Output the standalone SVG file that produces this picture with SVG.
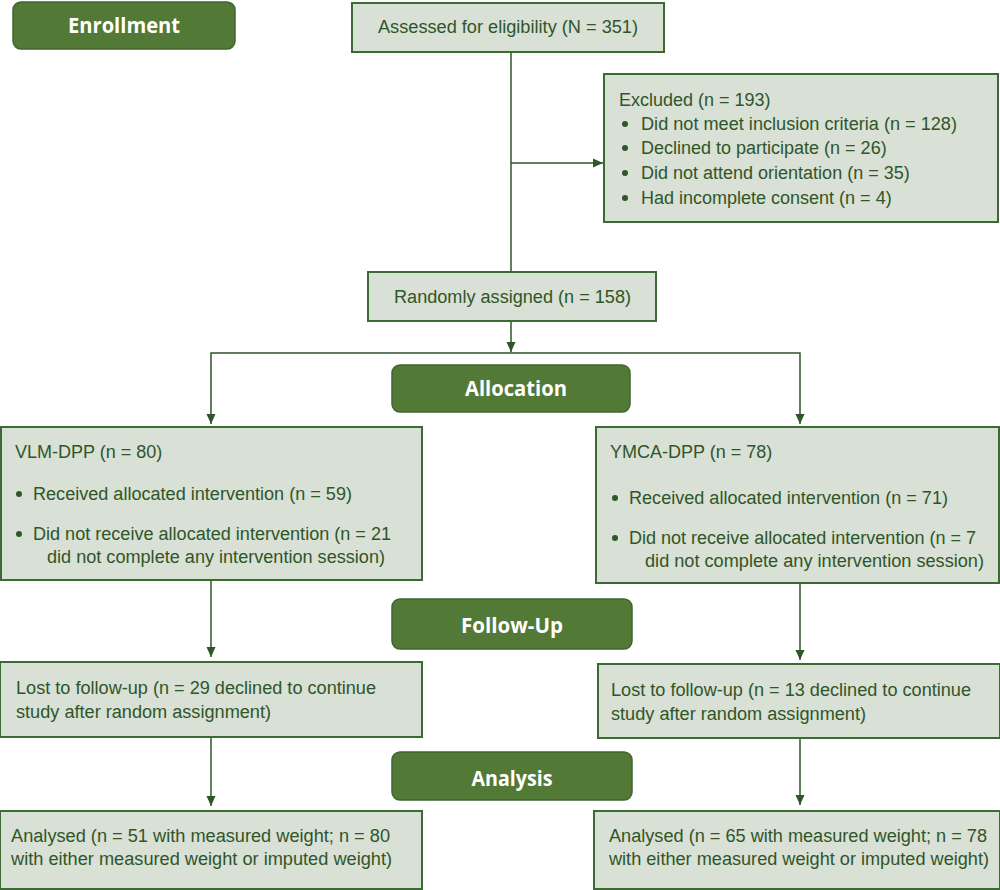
<svg xmlns="http://www.w3.org/2000/svg" width="1000" height="890" viewBox="0 0 1000 890">
<style>
.hdr rect{fill:#537936;stroke:#3f6530;stroke-width:1.5}
.hdr text{font-family:"Open Sans","Liberation Sans",sans-serif;font-weight:bold;font-size:21px;fill:#ffffff;text-anchor:middle}
.box rect{fill:#d9e0d5;stroke:#3b6a33;stroke-width:2}
.box text{font-family:"Liberation Sans",Arial,sans-serif;font-size:18px;fill:#2f5628}
.box circle{fill:#2f5628}
.conn path{fill:none;stroke:#2f5628;stroke-width:1.5}
</style>
<defs>
<marker id="ah" viewBox="0 0 10 10" refX="10" refY="5" markerWidth="10" markerHeight="10" markerUnits="userSpaceOnUse" orient="auto">
<path d="M0,0.5 L10,5 L0,9.5 Z" fill="#2f5628"/>
</marker>
</defs>
<rect width="1000" height="890" fill="#ffffff"/>
<g class="conn" id="connectors">
<path d="M511,52 V271"/>
<path d="M511,163 H603" marker-end="url(#ah)"/>
<path d="M511,321 V352" marker-end="url(#ah)"/>
<path d="M511,353 H211 V424" marker-end="url(#ah)"/>
<path d="M511,353 H800 V424" marker-end="url(#ah)"/>
<path d="M211,580 V657" marker-end="url(#ah)"/>
<path d="M800,583 V660" marker-end="url(#ah)"/>
<path d="M211,737 V806" marker-end="url(#ah)"/>
<path d="M800,738 V805" marker-end="url(#ah)"/>
</g>
<g class="hdr" id="enrollment"><rect x="13" y="2" width="222" height="47" rx="8"/><text x="124" y="33" textLength="112" lengthAdjust="spacingAndGlyphs">Enrollment</text></g>
<g class="hdr" id="allocation"><rect x="392" y="365" width="238" height="47" rx="8"/><text x="516" y="396" textLength="102" lengthAdjust="spacingAndGlyphs">Allocation</text></g>
<g class="hdr" id="followup"><rect x="392" y="599" width="240" height="50" rx="8"/><text x="512" y="633" textLength="102" lengthAdjust="spacingAndGlyphs">Follow-Up</text></g>
<g class="hdr" id="analysis"><rect x="392" y="752" width="240" height="48" rx="8"/><text x="512" y="786" textLength="81" lengthAdjust="spacingAndGlyphs">Analysis</text></g>
<g class="box" id="assessed"><rect x="352" y="3" width="312" height="49"/><text x="378" y="33" textLength="260" lengthAdjust="spacingAndGlyphs">Assessed for eligibility (N = 351)</text></g>
<g class="box" id="excluded"><rect x="604" y="74" width="394" height="148"/>
<text x="619" y="106">Excluded (n = 193)</text>
<circle cx="625" cy="124" r="3"/><text x="641" y="130" textLength="316" lengthAdjust="spacingAndGlyphs">Did not meet inclusion criteria (n = 128)</text>
<circle cx="625" cy="148" r="3"/><text x="641" y="154">Declined to participate (n = 26)</text>
<circle cx="625" cy="173" r="3"/><text x="641" y="179">Did not attend orientation (n = 35)</text>
<circle cx="625" cy="198" r="3"/><text x="641" y="204">Had incomplete consent (n = 4)</text>
</g>
<g class="box" id="randomized"><rect x="368" y="272" width="288" height="49"/><text x="394" y="303" textLength="237" lengthAdjust="spacingAndGlyphs">Randomly assigned (n = 158)</text></g>
<g class="box" id="vlm"><rect x="1" y="427" width="421" height="153"/>
<text x="15" y="458">VLM-DPP (n = 80)</text>
<circle cx="19" cy="494" r="3"/><text x="33" y="500" textLength="319" lengthAdjust="spacingAndGlyphs">Received allocated intervention (n = 59)</text>
<circle cx="19" cy="534" r="3"/><text x="33" y="540" textLength="358" lengthAdjust="spacingAndGlyphs">Did not receive allocated intervention (n = 21</text>
<text x="47" y="563" textLength="338" lengthAdjust="spacingAndGlyphs">did not complete any intervention session)</text>
</g>
<g class="box" id="ymca"><rect x="596" y="427" width="403" height="156"/>
<text x="610" y="458">YMCA-DPP (n = 78)</text>
<circle cx="615" cy="498" r="3"/><text x="629" y="504" textLength="319" lengthAdjust="spacingAndGlyphs">Received allocated intervention (n = 71)</text>
<circle cx="615" cy="538" r="3"/><text x="629" y="544" textLength="347" lengthAdjust="spacingAndGlyphs">Did not receive allocated intervention (n = 7</text>
<text x="645" y="567" textLength="339" lengthAdjust="spacingAndGlyphs">did not complete any intervention session)</text>
</g>
<g class="box" id="lost-left"><rect x="0" y="662" width="422" height="75"/>
<text x="16" y="694" textLength="360" lengthAdjust="spacingAndGlyphs">Lost to follow-up (n = 29 declined to continue</text>
<text x="16" y="718" textLength="255" lengthAdjust="spacingAndGlyphs">study after random assignment)</text>
</g>
<g class="box" id="lost-right"><rect x="598" y="664" width="402" height="74"/>
<text x="611" y="696" textLength="360" lengthAdjust="spacingAndGlyphs">Lost to follow-up (n = 13 declined to continue</text>
<text x="611" y="720" textLength="255" lengthAdjust="spacingAndGlyphs">study after random assignment)</text>
</g>
<g class="box" id="analysed-left"><rect x="0" y="811" width="422" height="78"/>
<text x="11" y="842" textLength="379" lengthAdjust="spacingAndGlyphs">Analysed (n = 51 with measured weight; n = 80</text>
<text x="11" y="865" textLength="381" lengthAdjust="spacingAndGlyphs">with either measured weight or imputed weight)</text>
</g>
<g class="box" id="analysed-right"><rect x="594" y="811" width="406" height="78"/>
<text x="609" y="842" textLength="378" lengthAdjust="spacingAndGlyphs">Analysed (n = 65 with measured weight; n = 78</text>
<text x="609" y="865" textLength="380" lengthAdjust="spacingAndGlyphs">with either measured weight or imputed weight)</text>
</g>
</svg>
